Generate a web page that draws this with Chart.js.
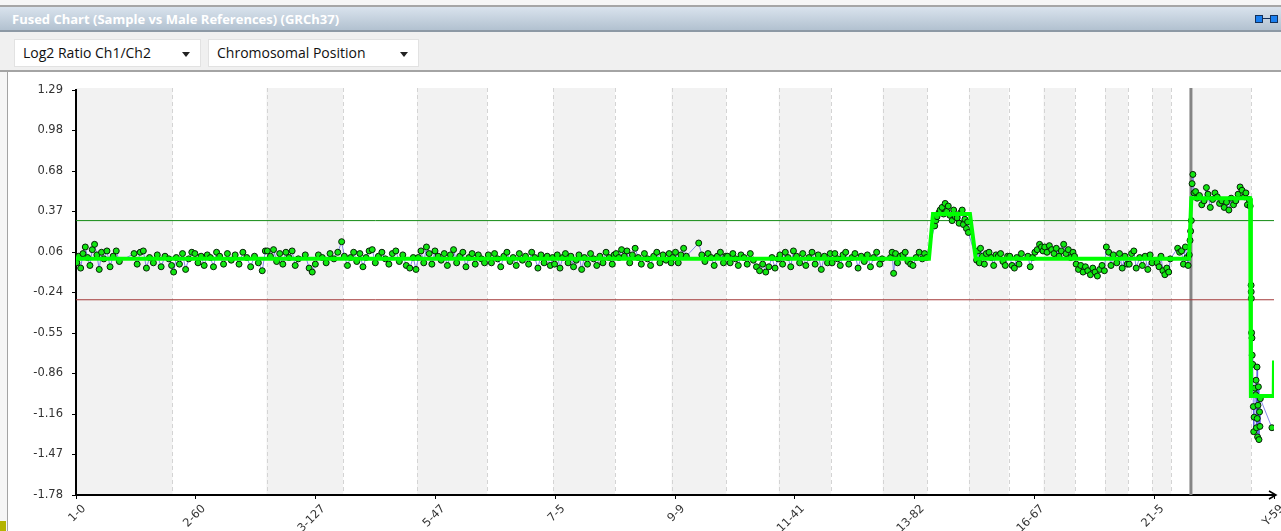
<!DOCTYPE html>
<html>
<head>
<meta charset="utf-8">
<script src="https://cdn.jsdelivr.net/npm/chart.js@4.4.0/dist/chart.umd.min.js"></script>
<style>
body { margin:0; width:1281px; height:531px; background:#f6f6f6; overflow:hidden; position:relative; font-family:"Open Sans", sans-serif; }
#topline { position:absolute; left:0; top:5px; width:1281px; height:2px; background:#a6a6a6; }
#titlebar { position:absolute; left:0; top:7px; width:1281px; height:23px; background:linear-gradient(#d9e3ed,#b2c1d0); border-bottom:2px solid #8d99a5; }
#title { position:absolute; left:12px; top:3px; color:#fff; font-weight:bold; font-size:13px; letter-spacing:0; }
.sq { position:absolute; top:8px; width:6px; height:6px; background:#1a7ff0; border:1px solid #12305a; }
#link { position:absolute; left:1263px; top:11px; width:8px; height:1px; background:#12305a; }
#toolbar { position:absolute; left:0; top:32px; width:1281px; height:38px; background:#f0f0f0; border-bottom:2px solid #a4a4a4; }
.dd { position:absolute; top:7px; height:28px; background:#fff; border:1px solid #e2e2e2; box-sizing:border-box; font-size:14px; line-height:26px; padding-left:8px; color:#111; }
.dd::after { content:''; position:absolute; right:10px; top:12px; border-left:4px solid transparent; border-right:4px solid transparent; border-top:5px solid #222; }
#leftline { position:absolute; left:7px; top:72px; width:1px; height:459px; background:#a4a4a4; }
#panel { position:absolute; left:8px; top:72px; width:1273px; height:459px; background:#fff; }
#mark { position:absolute; left:0; top:521px; width:6px; height:10px; background:#b4b400; }
</style>
</head>
<body>
<div id="topline"></div>
<div id="titlebar">
  <div id="title">Fused Chart (Sample vs Male References) (GRCh37)</div>
  <div class="sq" style="left:1255px"></div>
  <div id="link"></div>
  <div class="sq" style="left:1270px"></div>
</div>
<div id="toolbar">
  <div class="dd" style="left:14px; width:187px;">Log2 Ratio Ch1/Ch2</div>
  <div class="dd" style="left:208px; width:211px;">Chromosomal Position</div>
</div>
<div id="leftline"></div>
<div id="panel"><canvas id="fusedChart"></canvas></div>
<div id="mark"></div>
<script>
// chromosome layout (GRCh37, Mb)
const chromNames = ['1','2','3','4','5','6','7','8','9','10','11','12','13','14','15','16','17','18','19','20','21','22','X','Y'];
const chromLengths = [249.25,243.20,198.02,191.15,180.92,171.12,159.14,146.36,141.21,135.53,135.01,133.85,115.17,107.35,102.53,90.35,81.20,78.08,59.13,63.03,48.13,51.30,155.27,59.37];

const xTickLabels = ['1-0','2-60','3-127','5-47','7-5','9-9','11-41','13-82','16-67','21-5','Y-59'];
const yTickLabels = ['1.29','0.98','0.68','0.37','0.06','-0.24','-0.55','-0.86','-1.16','-1.47','-1.78'];
const yMax = 1.29;
const yMin = -1.78;

const gainThreshold = 0.3;
const lossThreshold = -0.3;

// probes: [position in chromosome (Mb), log2 ratio]
const chr1 = [[2,-0.02],[7,0.03],[12,-0.06],[18,0.05],[24,0.10],[30,0.02],[36,-0.04],[42,0.08],[48,0.12],[54,0.04],[60,-0.07],[66,0.06],[72,0.01],[80,0.07],[88,-0.05],[96,0.03],[104,0.07],[112,-0.01],[150,0.05],[158,-0.03],[166,0.06],[174,0.07],[182,-0.06],[190,0.02],[200,-0.02],[210,0.04],[220,-0.05],[230,0.03],[240,0.01],[247,-0.04]];
const chr2 = [[3,-0.09],[10,0.02],[18,-0.03],[26,0.05],[34,-0.07],[42,0.01],[50,0.06],[58,0.05],[66,-0.02],[74,0.03],[82,-0.04],[90,0.04],[98,0.02],[106,-0.05],[114,0.06],[122,0.03],[132,-0.03],[142,0.05],[152,0.00],[162,0.04],[172,-0.03],[182,0.06],[192,0.02],[202,-0.05],[212,0.03],[222,-0.02],[232,-0.08],[240,0.07]];
const chr3 = [[2,0.07],[10,0.03],[18,0.08],[26,-0.01],[34,0.05],[42,-0.03],[50,0.06],[58,0.02],[66,0.07],[74,-0.04],[82,0.01],[100,0.04],[110,-0.06],[118,-0.09],[126,-0.03],[134,0.04],[144,0.02],[154,-0.02],[164,0.05],[174,0.01],[184,0.06],[194,0.14]];
const chr4 = [[3,0.03],[11,-0.04],[19,0.02],[27,0.06],[35,-0.01],[43,0.05],[51,-0.05],[59,0.02],[67,0.07],[75,0.08],[83,-0.02],[91,0.03],[100,0.06],[109,0.01],[118,-0.03],[127,0.05],[136,0.07],[145,-0.01],[154,0.04],[163,-0.04],[172,-0.06],[181,0.02],[188,-0.07]];
const chr5 = [[3,0.02],[10,0.07],[17,-0.02],[24,0.10],[31,0.05],[38,-0.03],[46,0.07],[54,0.03],[62,0.00],[70,0.05],[78,-0.04],[86,0.04],[94,0.08],[102,-0.02],[110,0.03],[118,0.06],[126,-0.05],[134,0.02],[142,0.05],[150,-0.03],[158,0.04],[166,0.01],[174,-0.02]];
const chr6 = [[3,0.04],[11,-0.02],[19,0.05],[27,0.01],[35,-0.05],[43,0.03],[51,0.06],[59,-0.01],[67,0.02],[75,-0.04],[83,0.05],[91,0.00],[99,0.03],[107,-0.03],[115,0.06],[123,0.02],[131,-0.06],[139,0.04],[147,-0.02],[155,0.03],[163,-0.04],[169,0.02]];
const chr7 = [[3,-0.03],[10,0.04],[17,-0.06],[24,0.02],[31,0.05],[38,-0.02],[45,0.03],[52,-0.05],[59,0.00],[66,0.04],[73,-0.07],[80,0.02],[88,-0.03],[96,0.05],[104,0.01],[112,-0.04],[120,0.03],[128,-0.02],[136,0.06],[144,0.02],[152,-0.03],[157,0.04]];
const chr8 = [[3,0.05],[10,0.02],[17,0.08],[24,0.03],[31,0.07],[38,-0.02],[45,0.04],[52,0.09],[60,0.02],[68,-0.03],[76,0.05],[84,0.01],[92,-0.04],[100,0.03],[108,0.06],[116,-0.02],[124,0.04],[132,0.00],[140,0.05],[145,-0.02]];
const chr9 = [[3,0.02],[10,0.06],[17,-0.02],[24,0.04],[31,0.09],[38,0.03],[70,0.13],[78,0.04],[86,-0.01],[94,0.05],[102,0.02],[110,-0.04],[118,0.03],[126,0.06],[134,-0.02],[140,0.03]];
const chr10 = [[3,0.03],[10,-0.02],[17,0.05],[24,0.01],[31,-0.04],[38,0.04],[46,0.02],[54,-0.03],[62,0.05],[70,0.00],[78,-0.05],[86,-0.08],[94,-0.03],[102,-0.09],[110,-0.05],[118,0.02],[126,-0.06],[134,0.01]];
const chr11 = [[3,0.04],[10,-0.03],[17,0.06],[24,0.02],[31,-0.05],[38,0.07],[46,0.03],[54,-0.02],[62,0.05],[70,-0.04],[78,0.02],[86,0.06],[94,-0.03],[102,0.04],[110,-0.07],[118,0.03],[126,-0.02],[133,0.05]];
const chr12 = [[3,-0.02],[10,0.05],[17,0.01],[24,-0.04],[31,0.04],[38,0.06],[46,-0.03],[54,0.02],[62,0.05],[70,-0.06],[78,0.03],[86,-0.01],[94,0.04],[102,-0.05],[110,0.02],[118,0.06],[126,-0.03],[132,0.01]];
const chr13 = [[20,0.02],[24,0.06],[28,-0.10],[33,0.05],[38,-0.02],[45,0.03],[52,0.04],[58,0.06],[65,-0.01],[72,-0.03],[78,-0.04],[86,0.02],[94,0.06],[102,0.01],[108,0.05],[113,0.02]];
const chr14 = [[19,0.26],[22,0.30],[25,0.33],[30,0.36],[33,0.38],[38,0.40],[42,0.35],[46,0.43],[50,0.37],[54,0.41],[58,0.34],[64,0.30],[68,0.38],[72,0.33],[77,0.32],[82,0.28],[86,0.36],[90,0.38],[93,0.27],[97,0.31],[101,0.24],[104,0.29],[106,0.21]];
const chr15 = [[20,0.00],[23,0.07],[27,-0.02],[30,0.09],[35,0.03],[40,-0.03],[45,0.05],[52,0.06],[58,0.02],[64,-0.04],[70,0.04],[76,0.03],[82,0.05],[88,-0.01],[94,-0.04],[100,0.03]];
const chr16 = [[3,0.03],[9,-0.04],[15,-0.06],[21,0.02],[27,-0.03],[33,0.05],[50,0.03],[56,-0.05],[62,0.02],[68,0.06],[74,0.08],[80,0.12],[85,0.10],[89,0.07]];
const chr17 = [[3,0.10],[9,0.06],[15,0.11],[21,0.08],[27,0.05],[33,0.09],[40,0.03],[46,0.07],[52,0.12],[58,0.05],[64,0.08],[70,0.02],[76,0.06],[80,0.03]];
const chr18 = [[3,-0.03],[9,-0.07],[15,-0.04],[21,-0.09],[27,-0.05],[33,-0.08],[40,-0.11],[46,-0.06],[52,-0.09],[58,-0.12],[64,-0.07],[70,-0.04],[76,-0.08]];
const chr19 = [[3,0.10],[9,0.06],[15,-0.04],[21,0.04],[30,-0.02],[37,0.05],[44,-0.06],[51,0.03],[57,-0.03]];
const chr20 = [[3,-0.03],[9,0.05],[15,0.07],[21,-0.06],[30,0.02],[37,-0.04],[44,0.03],[51,-0.07],[57,0.04],[62,-0.02]];
const chr21 = [[12,-0.02],[17,-0.05],[22,0.03],[27,-0.08],[32,-0.11],[37,-0.06],[42,-0.09],[46,0.01]];
const chr22 = [[17,0.09],[22,0.06],[27,0.07],[32,-0.03],[37,0.10],[41,0.02],[44,-0.04],[47,0.04],[49,0.15],[50.5,0.22]];
const chrX = [[1,0.30],[3,0.58],[5,0.65],[8,0.51],[12,0.52],[16,0.47],[22,0.49],[28,0.42],[34,0.45],[40,0.55],[44,0.50],[50,0.40],[56,0.46],[62,0.51],[68,0.48],[74,0.43],[80,0.45],[86,0.40],[92,0.44],[98,0.38],[104,0.47],[110,0.42],[116,0.45],[122,0.50],[127,0.555],[132,0.53],[138,0.48],[142,0.51],[146,0.42],[150,0.46],[153,0.41]];
const chrY = [[0.2,-0.19],[0.5,-0.24],[0.8,-0.29],[1.5,-0.55],[2.5,-0.59],[3,-0.72],[4.5,-0.79],[6,-1.11],[7,-1.30],[8,-1.19],[10,-0.97],[12,-1.02],[13,-0.91],[14,-1.27],[15.5,-0.81],[16,-1.20],[17,-1.34],[18,-1.10],[19,-0.96],[20.5,-1.36],[22,-1.15],[23,-1.26],[24,-1.05],[54,-1.27]];

// segment calls, genome position (Mb) and mean log2 ratio
const segmentX = [0, 2204, 2214.5, 2310, 2325, 2876, 2882, 3034, 3036, 3095, 3095.67];
const segmentY = [0.01, 0.01, 0.35, 0.35, 0.01, 0.01, 0.47, 0.47, -1.03, -1.03, -0.76];

const probes = [chr1,chr2,chr3,chr4,chr5,chr6,chr7,chr8,chr9,chr10,chr11,chr12,chr13,chr14,chr15,chr16,chr17,chr18,chr19,chr20,chr21,chr22,chrX,chrY];

const chromStarts = [];
let acc = 0;
chromLengths.forEach(len => { chromStarts.push(acc); acc += len; });
const genomeLength = acc;

const probePoints = [];
probes.forEach((list, c) => {
    list.forEach(p => probePoints.push({ x: chromStarts[c] + p[0], y: p[1] }));
});
const segmentPoints = segmentX.map((x, i) => ({ x: x, y: segmentY[i] }));

const bandsPlugin = {
    id: 'bands',
    beforeDraw(chart) {
        const { ctx, chartArea, scales } = chart;
        const top = chartArea.top - 2;
        const bottom = chartArea.bottom;
        ctx.save();
        chromStarts.forEach((start, i) => {
            if (i % 2 === 0) {
                const x1 = scales.x.getPixelForValue(start);
                const x2 = scales.x.getPixelForValue(start + chromLengths[i]);
                ctx.fillStyle = '#f2f2f2';
                ctx.fillRect(x1, top, x2 - x1, bottom - top);
            }
        });
        ctx.strokeStyle = '#d4d4d4';
        ctx.lineWidth = 1;
        ctx.setLineDash([4, 3]);
        chromStarts.forEach((start, i) => {
            if (i === 0) return;
            const x = Math.round(scales.x.getPixelForValue(start)) + 0.5;
            ctx.beginPath();
            ctx.moveTo(x, top);
            ctx.lineTo(x, bottom);
            ctx.stroke();
        });
        ctx.restore();
    },
    beforeDatasetsDraw(chart) {
        const { ctx, chartArea, scales } = chart;
        const x = scales.x.getPixelForValue(chromStarts[22]);
        ctx.save();
        ctx.strokeStyle = '#858585';
        ctx.lineWidth = 3;
        ctx.beginPath();
        ctx.moveTo(x, chartArea.top - 2);
        ctx.lineTo(x, chartArea.bottom);
        ctx.stroke();
        ctx.restore();
    },
    afterDraw(chart) {
        const { ctx, chartArea } = chart;
        ctx.save();
        ctx.strokeStyle = '#000';
        ctx.lineWidth = 1.5;
        ctx.beginPath();
        ctx.moveTo(chartArea.right - 5, chartArea.bottom - 4);
        ctx.lineTo(chartArea.right + 2, chartArea.bottom);
        ctx.lineTo(chartArea.right - 5, chartArea.bottom + 4);
        ctx.stroke();
        ctx.restore();
    }
};

const tickFont = { family: 'DejaVu Sans', size: 11.5 };
const tickColor = '#333';

const chart = new Chart(document.getElementById('fusedChart').getContext('2d'), {
    type: 'scatter',
    data: {
        datasets: [{
            label: 'Segments',
            data: segmentPoints,
            showLine: true,
            borderColor: '#00ff00',
            borderWidth: 4,
            pointRadius: 0,
            order: 0
        }, {
            label: 'Log2 Ratio',
            data: probePoints,
            showLine: true,
            borderColor: 'rgba(95,95,225,0.75)',
            borderWidth: 1,
            pointRadius: 3,
            pointBorderWidth: 1,
            pointBorderColor: '#062006',
            pointBackgroundColor: '#12e612',
            order: 1
        }, {
            label: 'Gain',
            data: [{ x: 0, y: gainThreshold }, { x: genomeLength, y: gainThreshold }],
            showLine: true,
            borderColor: '#138a13',
            borderWidth: 1,
            pointRadius: 0,
            order: 2
        }, {
            label: 'Loss',
            data: [{ x: 0, y: lossThreshold }, { x: genomeLength, y: lossThreshold }],
            showLine: true,
            borderColor: '#a33a3a',
            borderWidth: 1,
            pointRadius: 0,
            order: 2
        }]
    },
    options: {
        responsive: true,
        maintainAspectRatio: false,
        animation: false,
        layout: { padding: { top: 18, right: 7, left: 0, bottom: 0 } },
        plugins: {
            legend: { display: false },
            tooltip: { enabled: false }
        },
        scales: {
            x: {
                type: 'linear',
                min: 0,
                max: genomeLength,
                afterFit: scale => {
                    scale.height = 36;
                    scale.paddingRight = 0;
                },
                afterBuildTicks: scale => {
                    scale.ticks = xTickLabels.map((_, i) => ({ value: genomeLength * i / (xTickLabels.length - 1) }));
                },
                ticks: {
                    autoSkip: false,
                    minRotation: 45,
                    maxRotation: 45,
                    padding: 3,
                    labelOffset: 8,
                    color: tickColor,
                    font: tickFont,
                    callback: (value, index) => xTickLabels[index]
                },
                grid: { drawOnChartArea: false, drawTicks: true, tickLength: 4, color: '#000' },
                border: { display: true, color: '#000', width: 2 }
            },
            y: {
                type: 'linear',
                min: yMin,
                max: yMax,
                afterFit: scale => { scale.width = 68; },
                afterBuildTicks: scale => {
                    scale.ticks = yTickLabels.map((_, i) => ({ value: yMax - (yMax - yMin) * i / (yTickLabels.length - 1) }));
                },
                ticks: {
                    padding: 9,
                    color: tickColor,
                    font: tickFont,
                    callback: (value, index) => yTickLabels[index]
                },
                grid: { drawOnChartArea: false, drawTicks: true, tickLength: 4, color: '#000' },
                border: { display: true, color: '#000', width: 2 }
            }
        }
    },
    plugins: [bandsPlugin]
});
</script>
</body>
</html>
